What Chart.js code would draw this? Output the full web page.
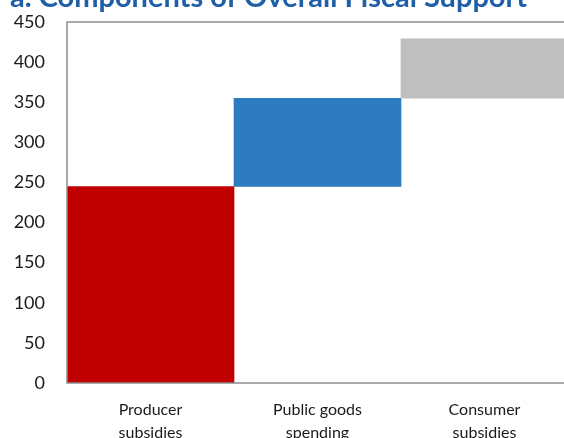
<!DOCTYPE html>
<html lang="en">
<head>
    <meta charset="UTF-8">
    <script src="https://cdn.jsdelivr.net/npm/chart.js@4/dist/chart.umd.min.js"></script>
    <title>Components of Overall Fiscal Support</title>
    <style>
        html, body { margin: 0; padding: 0; overflow: hidden; background: #fff; }
        .wrapper { width: 564px; height: 438px; overflow: hidden; position: relative; }
        #canvas { position: absolute; left: 0; top: 0; }
    </style>
</head>
<body>
    <div class="wrapper">
        <canvas id="canvas" width="568" height="438"></canvas>
    </div>
</body>
<script>

// data (waterfall: each bar starts where the last ended)
const categories = [['Producer', 'subsidies'], ['Public goods', 'spending'], ['Consumer', 'subsidies']]
const increments = [245, 110, 74]
const barColors = ['#C00000', '#2E7BBF', '#BFBFBF']
const yTicks = [0, 50, 100, 150, 200, 250, 300, 350, 400, 450]
const titleText = 'a. Components of Overall Fiscal Support'

// running totals -> floating bars [start, end]
let running = 0
const floating = increments.map(v => {
    const seg = [running, running + v]
    running += v
    return seg
})

const frameAndTitle = {
    id: 'frameAndTitle',
    afterDraw(chart) {
        const ctx = chart.ctx
        const a = chart.chartArea
        ctx.save()
        ctx.strokeStyle = '#8c8c8c'
        ctx.lineWidth = 1.5
        ctx.strokeRect(a.left, a.top, a.right - a.left, a.bottom - a.top)
        ctx.fillStyle = '#1F5FA8'
        ctx.font = 'bold 29px Lato'
        ctx.textAlign = 'left'
        ctx.textBaseline = 'alphabetic'
        ctx.fillText(titleText, 10, 7)
        ctx.restore()
    }
}

window.onload = () => {
    let myChart = document.getElementById('canvas')
    let fiscalChart = new Chart(myChart, {
        type: 'bar',
        data: {
            labels: categories,
            datasets: [{
                label: 'Fiscal support',
                data: floating,
                backgroundColor: barColors,
                borderWidth: 0,
                borderSkipped: false,
                categoryPercentage: 1.0,
                barPercentage: 1.0
            }]
        },
        options: {
            responsive: false,
            animation: false,
            layout: { padding: { top: 22, left: 0, right: 0, bottom: 0 } },
            plugins: {
                legend: { display: false },
                tooltip: { enabled: false },
                title: { display: false }
            },
            scales: {
                x: {
                    grid: { display: false, drawTicks: false },
                    border: { display: false },
                    ticks: {
                        color: '#1a1a1a',
                        font: { family: 'Lato', size: 16, lineHeight: 1.4 },
                        padding: 16,
                        maxRotation: 0
                    },
                    afterFit: s => { s.height = 55 }
                },
                y: {
                    min: 0,
                    max: 450,
                    grid: { display: false, drawTicks: false },
                    border: { display: false },
                    afterBuildTicks: s => { s.ticks = yTicks.map(v => ({ value: v })) },
                    ticks: {
                        color: '#1a1a1a',
                        font: { family: 'Lato', size: 18 },
                        padding: 22
                    },
                    afterFit: s => {
                        s.width = 67
                        s.paddingTop = 0
                        s.paddingBottom = 0
                    }
                }
            }
        },
        plugins: [frameAndTitle]
    })
}

</script>
</html>
